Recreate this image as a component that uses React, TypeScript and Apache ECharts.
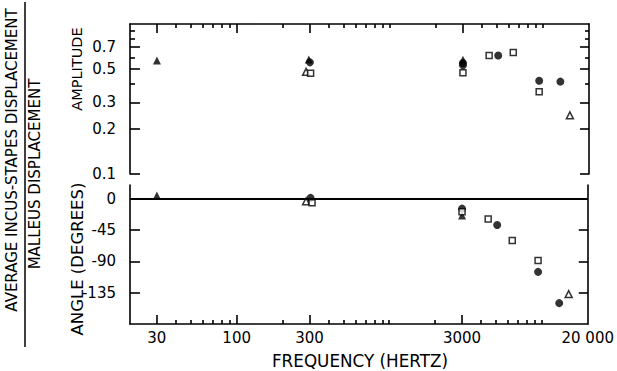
import React, { useEffect, useRef } from 'react';
import * as echarts from 'echarts';

// Tick values
const FREQ_MAJOR_TICKS = [30, 100, 300, 3000];
const FREQ_LABELS = [30, 100, 300, 3000, 20000];
const FREQ_MINOR_TICKS = [40, 50, 60, 70, 80, 90, 200, 400, 500, 600, 700, 800, 900, 1000, 2000, 4000, 5000, 6000, 7000, 8000, 9000, 10000];
const AMP_LABELS = [0.1, 0.2, 0.3, 0.5, 0.7];
const AMP_MINOR_TICKS = [0.4, 0.6, 0.8, 0.9];
const ANGLE_LABELS = [0, -45, -90, -135];

// Amplitude data [frequency Hz, ratio]
const ampFilledTriangle = [[30, 0.57], [295, 0.58], [3000, 0.578]];
const ampFilledCircle = [[300, 0.555], [3000, 0.55], [3000, 0.53], [5100, 0.616], [9450, 0.418], [13000, 0.413]];
const ampOpenTriangle = [[283, 0.48], [15000, 0.246]];
const ampOpenSquare = [[303, 0.47], [3000, 0.474], [4450, 0.616], [6400, 0.645], [9450, 0.354]];

// Angle data [frequency Hz, degrees]
const angFilledTriangle = [[30, 5], [3000, -24]];
const angFilledCircle = [[305, 1.5], [3000, -14], [5100, -37.5], [9450, -105], [13000, -150]];
const angOpenTriangle = [[285, -3.5], [15000, -137]];
const angOpenSquare = [[312, -5.5], [3000, -18.5], [4450, -28.8], [6400, -60], [9450, -88.5]];

const FONT = 'DejaVu Sans';
const INK = '#000';

export default function App() {
  const ref = useRef<HTMLDivElement>(null);
  useEffect(() => {
    if (!ref.current) return;
    const chart = echarts.init(ref.current, null, { renderer: 'svg' });
    const lineStyle = { color: INK, width: 1.6 };
    const noLabel = { show: false };
    const xBase = (grid: number, pos: string) => ({
      type: 'log', logBase: 10, min: 20, max: 20000, gridIndex: grid, position: pos,
      splitLine: { show: false }, axisLine: { show: false, onZero: false, lineStyle },
      axisLabel: noLabel,
    });
    const filled = (sym: string, size: number) => ({ symbol: sym, symbolSize: size, itemStyle: { color: INK } });
    const open = (sym: string, size: number) => ({ symbol: sym, symbolSize: size, itemStyle: { color: '#fff', borderColor: INK, borderWidth: 1.5 } });

    const option: any = {
      animation: false,
      backgroundColor: '#fff',
      grid: [
        { left: 130, top: 24, width: 459, height: 150 },
        { left: 130, top: 185, width: 459, height: 139 },
      ],
      xAxis: [
        { ...xBase(0, 'top'), axisLine: { show: true, onZero: false, lineStyle }, axisTick: { show: true, inside: true, length: 4, lineStyle, customValues: FREQ_MINOR_TICKS } },
        { ...xBase(0, 'top'), axisTick: { show: true, inside: true, length: 9, lineStyle, customValues: FREQ_MAJOR_TICKS } },
        { ...xBase(1, 'bottom'), axisLine: { show: true, onZero: false, lineStyle }, axisTick: { show: true, inside: true, length: 4, lineStyle, customValues: FREQ_MINOR_TICKS } },
        {
          ...xBase(1, 'bottom'),
          axisTick: { show: true, inside: true, length: 9, lineStyle, customValues: FREQ_MAJOR_TICKS },
          axisLabel: {
            show: true, customValues: FREQ_LABELS, margin: 6, color: INK, fontFamily: FONT, fontSize: 15,
            formatter: (v: number) => { const r = Math.round(v); return r === 20000 ? '20 000' : String(r); },
          },
        },
      ],
      yAxis: [
        {
          type: 'log', logBase: 10, min: 0.1, max: 1, gridIndex: 0, position: 'left',
          splitLine: { show: false }, axisLine: { show: true, lineStyle },
          axisTick: { show: true, inside: true, length: 10, lineStyle, customValues: AMP_LABELS },
          axisLabel: { show: true, customValues: AMP_LABELS, margin: 14, color: INK, fontFamily: FONT, fontSize: 15, formatter: (v: number) => Number(v).toFixed(1) },
        },
        {
          type: 'log', logBase: 10, min: 0.1, max: 1, gridIndex: 0, position: 'left',
          splitLine: { show: false }, axisLine: { show: false },
          axisTick: { show: true, inside: true, length: 5, lineStyle, customValues: AMP_MINOR_TICKS },
          axisLabel: noLabel,
        },
        {
          type: 'log', logBase: 10, min: 0.1, max: 1, gridIndex: 0, position: 'right',
          splitLine: { show: false }, axisLine: { show: true, lineStyle },
          axisTick: { show: true, inside: true, length: 9, lineStyle, customValues: AMP_LABELS },
          axisLabel: noLabel,
        },
        {
          type: 'log', logBase: 10, min: 0.1, max: 1, gridIndex: 0, position: 'right',
          splitLine: { show: false }, axisLine: { show: false },
          axisTick: { show: true, inside: true, length: 4, lineStyle, customValues: AMP_MINOR_TICKS },
          axisLabel: noLabel,
        },
        {
          type: 'value', min: -180, max: 20, gridIndex: 1, position: 'left',
          splitLine: { show: false }, axisLine: { show: true, onZero: false, lineStyle },
          axisTick: { show: true, inside: true, length: 10, lineStyle, customValues: ANGLE_LABELS },
          axisLabel: { show: true, customValues: ANGLE_LABELS, margin: 14, color: INK, fontFamily: FONT, fontSize: 15 },
        },
        {
          type: 'value', min: -180, max: 20, gridIndex: 1, position: 'right',
          splitLine: { show: false }, axisLine: { show: true, onZero: false, lineStyle },
          axisTick: { show: true, inside: true, length: 9, lineStyle, customValues: ANGLE_LABELS.slice(1) },
          axisLabel: noLabel,
        },
      ],
      series: [
        { type: 'scatter', xAxisIndex: 0, yAxisIndex: 0, data: ampFilledTriangle, ...filled('triangle', 8) },
        { type: 'scatter', xAxisIndex: 0, yAxisIndex: 0, data: ampFilledCircle, ...filled('circle', 8) },
        { type: 'scatter', xAxisIndex: 0, yAxisIndex: 0, data: ampOpenTriangle, ...open('triangle', 7) },
        { type: 'scatter', xAxisIndex: 0, yAxisIndex: 0, data: ampOpenSquare, ...open('rect', 6) },
        {
          type: 'scatter', xAxisIndex: 2, yAxisIndex: 4, data: angFilledTriangle, ...filled('triangle', 8),
          markLine: { silent: true, symbol: ['none', 'none'], label: { show: false }, lineStyle: { color: INK, width: 2, type: 'solid' }, data: [{ yAxis: 0 }] },
        },
        { type: 'scatter', xAxisIndex: 2, yAxisIndex: 4, data: angFilledCircle, ...filled('circle', 8) },
        { type: 'scatter', xAxisIndex: 2, yAxisIndex: 4, data: angOpenTriangle, ...open('triangle', 7) },
        { type: 'scatter', xAxisIndex: 2, yAxisIndex: 4, data: angOpenSquare, ...open('rect', 6) },
      ],
      graphic: [
        { type: 'text', x: 12, y: 160, rotation: Math.PI / 2, style: { text: 'AVERAGE INCUS-STAPES DISPLACEMENT', font: `15px "${FONT}"`, fill: INK, textAlign: 'center', textVerticalAlign: 'middle' } },
        { type: 'line', shape: { x1: 25, y1: 2, x2: 25, y2: 347 }, style: { stroke: INK, lineWidth: 1.5 } },
        { type: 'text', x: 35, y: 174, rotation: Math.PI / 2, style: { text: 'MALLEUS DISPLACEMENT', font: `15px "${FONT}"`, fill: INK, textAlign: 'center', textVerticalAlign: 'middle' } },
        { type: 'text', x: 77, y: 69, rotation: Math.PI / 2, style: { text: 'AMPLITUDE', font: `14.5px "${FONT}"`, fill: INK, textAlign: 'center', textVerticalAlign: 'middle' } },
        { type: 'text', x: 77, y: 259, rotation: Math.PI / 2, style: { text: 'ANGLE (DEGREES)', font: `16.5px "${FONT}"`, fill: INK, textAlign: 'center', textVerticalAlign: 'middle' } },
        { type: 'text', x: 360, y: 361, style: { text: 'FREQUENCY (HERTZ)', font: `16.8px "${FONT}"`, fill: INK, textAlign: 'center', textVerticalAlign: 'middle' } },
      ],
    };
    chart.setOption(option);
    return () => chart.dispose();
  }, []);
  return <div ref={ref} style={{ position: 'fixed', left: 0, top: 0, width: 617, height: 371, background: '#fff' }} />;
}
